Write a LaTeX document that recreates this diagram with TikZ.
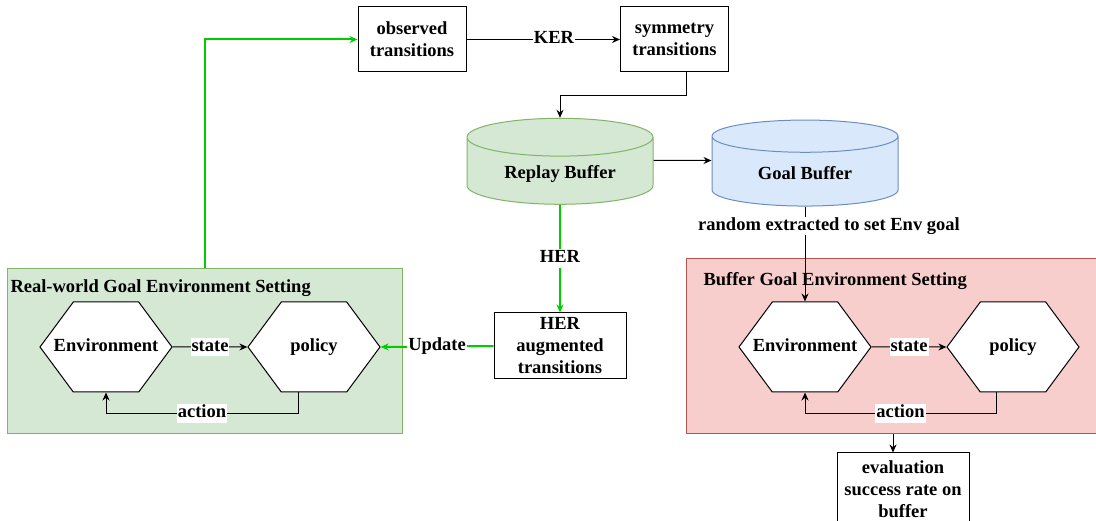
\documentclass[tikz,border=0pt]{standalone}
\usepackage{fontspec}
\setmainfont{Liberation Serif}
\usetikzlibrary{arrows.meta,shapes.geometric,shapes.symbols,positioning}
\definecolor{envgreen}{HTML}{D5E8D4}
\definecolor{envgreenline}{HTML}{82B366}
\definecolor{envred}{HTML}{F8CECC}
\definecolor{envredline}{HTML}{B85450}
\definecolor{goalblue}{HTML}{DAE8FC}
\definecolor{goalblueline}{HTML}{6C8EBF}
\definecolor{hergreen}{HTML}{00CC00}
\tikzset{
  every node/.style={font=\fontsize{18.5}{22}\selectfont\bfseries},
  trbox/.style={draw, fill=white, minimum width=108, minimum height=65, align=center, inner sep=0pt},
  hexa/.style={signal, signal to=east and west, signal from=nowhere, signal pointer angle=107,
    draw, fill=white, minimum width=132, minimum height=90, inner xsep=-30pt, inner ysep=0pt,
    text height=12.5pt, text depth=4pt},
  buffer/.style={cylinder, shape border rotate=90, aspect=0.32, minimum width=186, minimum height=86},
  lbl/.style={fill=white, text=black, inner sep=1pt, text height=12.5pt, text depth=4pt},
  arr/.style={-{Stealth[length=8pt,width=7pt]}},
  garr/.style={arr, hergreen, line width=2pt},
}
\begin{document}
\begin{tikzpicture}[x=1pt, y=-1pt, line width=1pt]
  \clip (0,0) rectangle (1096,521);
  % settings
  \node (rwbox) [draw=envgreenline, fill=envgreen, minimum width=395, minimum height=165] at (204.5,351.5) {};
  \node (gbbox) [draw=envredline, fill=envred, minimum width=414, minimum height=175] at (893,346.5) {};
  \node (rwtitle) [anchor=west, inner sep=0pt] at (10,288) {Real-world Goal Environment Setting};
  \node (gbtitle) [anchor=west, inner sep=0pt] at (703,281) {Buffer Goal Environment Setting};
  % transitions
  \node (obs) [trbox] at (412,39.5) {observed\\transitions};
  \node (sym) [trbox] at (674.5,39.5) {symmetry\\transitions};
  \node (her) [trbox, minimum width=132, minimum height=66] at (560,346) {HER\\augmented\\transitions};
  \node (eval) [trbox, minimum width=132, minimum height=72] at (903,489) {evaluation\\success rate on\\buffer};
  % buffers
  \node (replay) [buffer, draw=envgreenline, fill=envgreen] at (560,173.5) {Replay Buffer};
  \node (goal) [buffer, draw=goalblueline, fill=goalblue] at (805,173.5) {Goal Buffer};
  % loops
  \node (rwenv) [hexa] at (106,347) {Environment};
  \node (rwpol) [hexa] at (314,347) {policy};
  \node (gbenv) [hexa] at (805,347) {Environment};
  \node (gbpol) [hexa] at (1013,347) {policy};
  % connectors
  \draw[arr] (obs) -- node[lbl, pos=0.57] {KER} (sym);
  \draw[arr] ([xshift=11.5]sym.south) -- ++(0,23) -| (replay.north);
  \draw[arr] ([yshift=13pt]replay.east) -- ([yshift=13pt]goal.west);
  \draw[garr] (rwbox.north) |- (obs.west);
  \draw[garr] (replay.south) -- node[lbl] {HER} (her.north);
  \draw[garr] (her.west) -- node[lbl] {Update} (rwpol.east);
  \draw[arr] (rwenv) -- node[lbl] {state} (rwpol);
  \draw[arr] ([xshift=-16]rwpol.south) -- ++(0,21) -| node[lbl, pos=0.25] {action} (rwenv.south);
  \draw[arr] (gbenv) -- node[lbl] {state} (gbpol);
  \draw[arr] ([xshift=-17]gbpol.south) -- ++(0,21) -| node[lbl, pos=0.25] {action} (gbenv.south);
  \draw[arr] (goal.south) -- (gbenv.north);
  \node (randlbl) [lbl] at (829,226) {random extracted to set Env goal};
  \draw[arr] (gbbox.south) -- (gbbox.south |- eval.north);
\end{tikzpicture}
\end{document}
